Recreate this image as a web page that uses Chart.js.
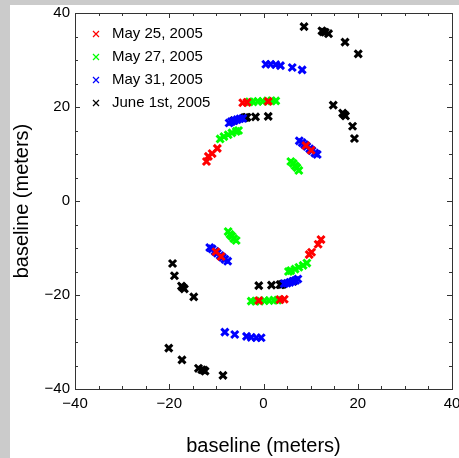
<!DOCTYPE html>
<html>
<head>
<meta charset="utf-8">
<script src="https://cdn.jsdelivr.net/npm/chart.js@4/dist/chart.umd.min.js"></script>
<style>
  body { margin: 0; background: #cbcbcb; width: 459px; height: 458px; overflow: hidden; }
  #panel { position: absolute; left: 10px; top: 5px; width: 449px; height: 453px; background: #fff; overflow: hidden; }
  #myChart { position: absolute; left: 0; top: -6px; }
</style>
</head>
<body>
<div id="panel"><canvas id="myChart" width="470" height="459"></canvas></div>
<script>
// uv coverage, baseline in meters
const seriesLabels = ['May 25, 2005', 'May 27, 2005', 'May 31, 2005', 'June 1st, 2005'];
const seriesColors = ['#ff0000', '#00ff00', '#0000ff', '#000000'];

const may25X = [-12.1, -11.7, -10.9, -9.8, -4.4, -3.5, 1.0, 9.0, 10.1,
                12.2, 11.6, 10.2, 9.7, 4.4, 3.5, -1.0, -9.0, -10.1];
const may25Y = [8.4, 9.5, 10.1, 11.2, 20.9, 21.0, 21.2, 11.8, 10.8,
                -8.2, -9.2, -10.9, -11.4, -20.9, -21.0, -21.2, -11.8, -10.8];

const may27X = [-9.2, -8.4, -7.5, -6.7, -5.8, -5.3, -3.0, -2.2, -1.2, -0.2, 0.8, 1.7, 2.6, 5.8, 6.3, 6.7, 7.1, 7.5,
                9.2, 8.4, 7.5, 6.7, 5.8, 5.3, 3.0, 2.2, 1.2, 0.2, -0.8, -1.7, -2.6, -5.8, -6.3, -6.7, -7.1, -7.5];
const may27Y = [13.2, 13.7, 14.1, 14.5, 14.8, 15.0, 21.1, 21.1, 21.2, 21.2, 21.3, 21.3, 21.3, 8.4, 8.0, 7.5, 7.1, 6.5,
                -13.2, -13.7, -14.1, -14.5, -14.8, -15.0, -21.1, -21.1, -21.2, -21.2, -21.3, -21.3, -21.3, -8.4, -8.0, -7.5, -7.1, -6.5];

const may31X = [-7.3, -6.8, -6.2, -5.6, -5.0, -4.4, 0.5, 1.5, 2.6, 3.6, 6.1, 8.2,
                7.6, 8.2, 8.7, 9.2, 9.8, 10.3, 10.9, 11.4,
                7.3, 6.8, 6.2, 5.6, 5.0, 4.4, -0.5, -1.5, -2.6, -3.6, -6.1, -8.2,
                -7.6, -8.2, -8.7, -9.2, -9.8, -10.3, -10.9, -11.4];
const may31Y = [16.6, 16.9, 17.1, 17.3, 17.5, 17.6, 29.1, 29.1, 29.0, 28.8, 28.4, 27.9,
                12.8, 12.4, 12.0, 11.6, 11.1, 10.7, 10.2, 9.9,
                -16.6, -16.9, -17.1, -17.3, -17.5, -17.6, -29.1, -29.1, -29.0, -28.8, -28.4, -27.9,
                -12.8, -12.4, -12.0, -11.6, -11.1, -10.7, -10.2, -9.9];

const june1X = [-6.3, -4.1, -3.8, -3.5, -1.7, 1.0,
                8.6, 12.4, 12.7, 13.1, 13.8, 17.3, 20.1,
                14.8, 16.8, 17.1, 17.4, 18.9, 19.3,
                6.3, 4.1, 3.8, 3.5, 1.7, -1.0,
                -8.6, -12.4, -12.7, -13.1, -13.8, -17.3, -20.1,
                -14.8, -16.8, -17.1, -17.4, -18.9, -19.3];
const june1Y = [17.1, 17.7, 17.8, 17.8, 17.9, 18.0,
                37.1, 36.2, 36.0, 35.9, 35.6, 33.8, 31.3,
                20.4, 18.7, 18.4, 18.1, 15.9, 13.3,
                -17.1, -17.7, -17.8, -17.8, -17.9, -18.0,
                -37.1, -36.2, -36.0, -35.9, -35.6, -33.8, -31.3,
                -20.4, -18.7, -18.4, -18.1, -15.9, -13.3];

const axisMin = -40, axisMax = 40, minorStep = 5, majorStep = 20;
const fontName = "'Liberation Sans', Arial, sans-serif";

function pts(xs, ys) {
	return xs.map((x, i) => ({ x: x, y: ys[i] }));
}

const allX = [may25X, may27X, may31X, june1X];
const allY = [may25Y, may27Y, may31Y, june1Y];

const datasets = seriesLabels.map((label, i) => ({
	label: label,
	data: pts(allX[i], allY[i]),
	pointStyle: 'crossRot',
	pointRadius: 5,
	pointHoverRadius: 5,
	borderWidth: 3,
	borderColor: seriesColors[i],
	backgroundColor: seriesColors[i],
	showLine: false
}));

// ticks pointing into the plot on all four sides, plus the frame
const frame = {
	id: 'frame',
	beforeDatasetsDraw(chart) {
		const { ctx, chartArea: a, scales } = chart;
		ctx.save();
		ctx.strokeStyle = '#333';
		ctx.lineWidth = 1;
		ctx.strokeRect(a.left + 0.5, a.top + 0.5, a.right - a.left, a.bottom - a.top);
		ctx.beginPath();
		scales.x.ticks.forEach(t => {
			const px = Math.round(scales.x.getPixelForValue(t.value)) + 0.5;
			const len = t.value % majorStep === 0 ? 5 : 3;
			ctx.moveTo(px, a.bottom); ctx.lineTo(px, a.bottom - len);
			ctx.moveTo(px, a.top); ctx.lineTo(px, a.top + len);
		});
		scales.y.ticks.forEach(t => {
			const py = Math.round(scales.y.getPixelForValue(t.value)) + 0.5;
			const len = t.value % majorStep === 0 ? 5 : 3;
			ctx.moveTo(a.left, py); ctx.lineTo(a.left + len, py);
			ctx.moveTo(a.right, py); ctx.lineTo(a.right - len, py);
		});
		ctx.stroke();
		ctx.restore();
	}
};

// legend inside the top left corner of the plot
const cornerLegend = {
	id: 'cornerLegend',
	afterDraw(chart) {
		const { ctx, chartArea: a } = chart;
		ctx.save();
		ctx.font = '15px ' + fontName;
		ctx.textBaseline = 'middle';
		chart.data.datasets.forEach((ds, i) => {
			const y = a.top + 21 + i * 23;
			const x = a.left + 21;
			ctx.strokeStyle = ds.borderColor;
			ctx.lineWidth = 1.2;
			ctx.beginPath();
			ctx.moveTo(x - 3, y - 3); ctx.lineTo(x + 3, y + 3);
			ctx.moveTo(x - 3, y + 3); ctx.lineTo(x + 3, y - 3);
			ctx.stroke();
			ctx.fillStyle = '#000';
			ctx.fillText(ds.label, a.left + 37, y);
		});
		ctx.restore();
	}
};

function tickText(v) {
	if (v % majorStep !== 0) return '';
	return v < 0 ? '\u2212' + Math.abs(v) : String(v);
}

const axisCommon = {
	type: 'linear',
	min: axisMin,
	max: axisMax,
	grid: { display: false, drawTicks: false },
	border: { display: false },
	ticks: {
		stepSize: minorStep,
		autoSkip: false,
		maxRotation: 0,
		color: '#000',
		font: { family: fontName, size: 15 },
		callback: tickText
	},
	title: {
		display: true,
		text: 'baseline (meters)',
		color: '#000',
		font: { family: fontName, size: 20 }
	}
};

new Chart(document.getElementById('myChart'), {
	type: 'scatter',
	data: { datasets: datasets },
	options: {
		responsive: false,
		animation: false,
		layout: { padding: { left: 0, top: 7, right: 28, bottom: 0 } },
		plugins: { legend: { display: false }, tooltip: { enabled: false } },
		scales: {
			x: Object.assign({}, axisCommon, {
				position: 'bottom',
				ticks: Object.assign({}, axisCommon.ticks, { padding: 6 }),
				title: Object.assign({}, axisCommon.title, { padding: { top: 0, bottom: 0 } }),
				afterFit(scale) { scale.height = 69; }
			}),
			y: Object.assign({}, axisCommon, {
				position: 'left',
				ticks: Object.assign({}, axisCommon.ticks, { padding: 5 }),
				title: Object.assign({}, axisCommon.title, { padding: { top: 0, bottom: 0 } }),
				afterFit(scale) { scale.width = 65; }
			})
		}
	},
	plugins: [frame, cornerLegend]
});
</script>
</body>
</html>
